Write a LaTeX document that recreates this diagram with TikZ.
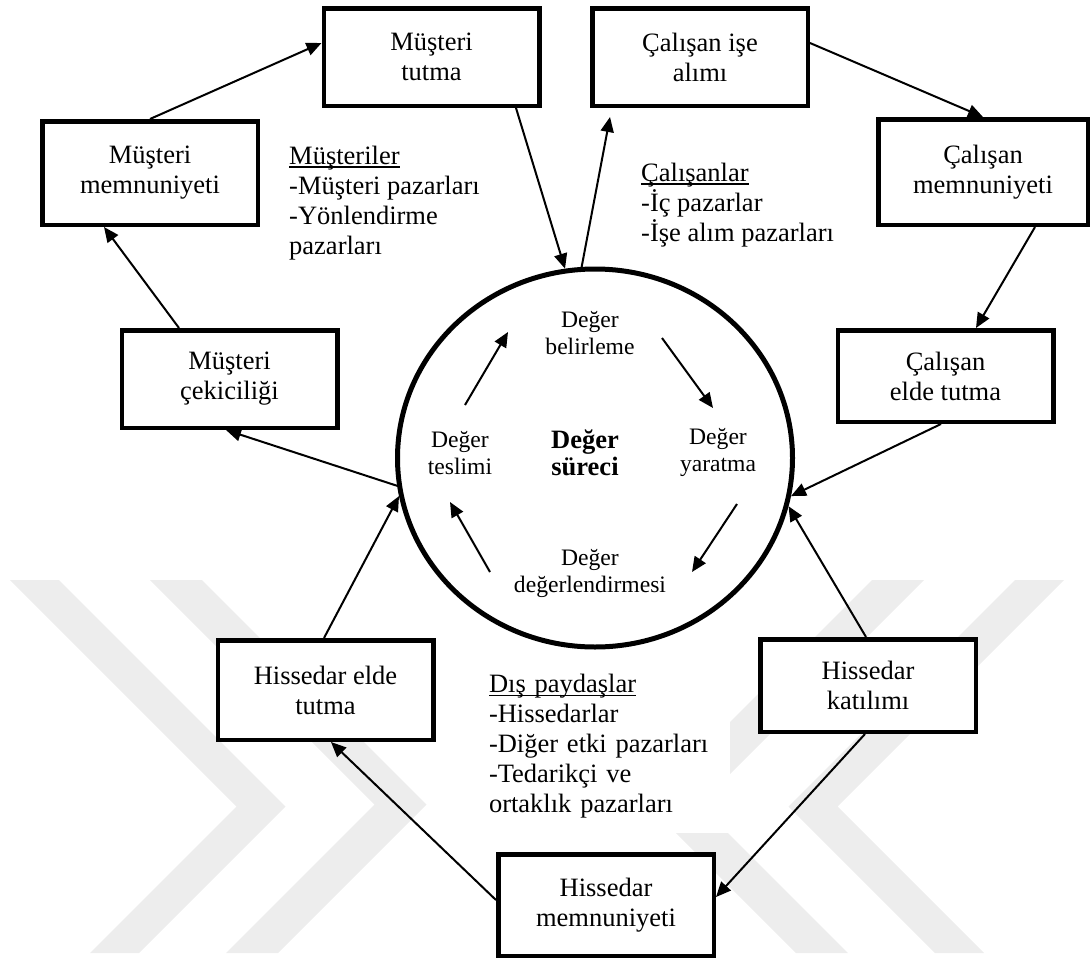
\documentclass[tikz,border=0pt]{standalone}
\usepackage{fontspec}
\setmainfont{Liberation Serif}
\usetikzlibrary{arrows.meta,shapes.geometric}
\definecolor{wm}{HTML}{EDEDED}
% heading underline of fixed offset below the baseline
\newcommand{\mkul}[1]{\setbox0\hbox{#1}\rlap{\rule[-3.5pt]{\wd0}{1.6pt}}\box0}
% one chevron band: start x, band width, depth of the bend, direction (+1 = ">", -1 = "<")
\newcommand{\chev}[4]{%
  \fill[wm] (#1,580) -- ++(#4*#2,0) -- ++(#4*#3,#3) -- ++(-#4*373+#4*#3,373-#3)
    -- ++(-#4*#2,0) -- ++(#4*373-#4*#3,#3-373) -- cycle;}
\begin{document}
\begin{tikzpicture}[x=1pt,y=-1pt,
  box/.style={draw, line width=4.5pt, fill=white, rectangle, align=center,
    minimum width=215.5pt, minimum height=97.5pt, inner sep=0pt,
    font=\fontsize{26.5}{30}\selectfont},
  inlbl/.style={align=center, inner sep=0pt, font=\fontsize{23.6}{27}\selectfont},
  blk/.style={align=left, inner sep=0pt, anchor=west, font=\fontsize{26.5}{30}\selectfont},
  link/.style={line width=2pt, -{Triangle[length=15pt,width=13pt]}}
]
\useasboundingbox (0,0) rectangle (1092,961);

% background emblem
\chev{10}{49}{226.5}{1}
\chev{150}{52}{224.5}{1}
\chev{1064}{49}{226.5}{-1}
\chev{924}{52}{224.5}{-1}

% value process
\node[draw, ellipse, line width=5pt, fill=white, minimum width=395pt,
  minimum height=378pt, inner sep=0pt] (vc) at (595,458) {};
\node[inlbl] (vb) at (590,333) {Değer\\belirleme};
\node[inlbl] (vt) at (460,453) {Değer\\teslimi};
\node[inlbl, font=\fontsize{26.5}{27}\selectfont\bfseries] (vs) at (585,453) {Değer\\süreci};
\node[inlbl] (vy) at (718,452) {Değer\\yaratma};
\node[inlbl] (vd) at (590,573) {Değer\\değerlendirmesi};

% stage boxes
\node[box] (mt) at (431.5,57) {Müşteri\\tutma};
\node[box, minimum height=103.5pt] (mm) at (150,173) {Müşteri\\memnuniyeti};
\node[box] (ci) at (700,57) {Çalışan işe\\alımı};
\node[box, minimum width=209.5pt, minimum height=105.5pt] (cm) at (983,172) {Çalışan\\memnuniyeti};
\node[box] (mc) at (229.5,379) {Müşteri\\çekiciliği};
\node[box, minimum height=91.5pt] (ce) at (945.5,376) {Çalışan\\elde tutma};
\node[box, minimum height=99.5pt] (he) at (325.5,690) {Hissedar elde\\tutma};
\node[box, minimum height=92.5pt] (hk) at (868,685.5) {Hissedar\\katılımı};
\node[box, minimum height=101.5pt] (hm) at (606,905) {Hissedar\\memnuniyeti};

% market groups
\node[blk] (km) at (289,203) {\mkul{Müşteriler}\\-Müşteri pazarları\\-Yönlendirme\\pazarları};
\node[blk] (kc) at (641,205) {\mkul{Çalışanlar}\\-İç pazarlar\\-İşe alım pazarları};
\node[blk, anchor=center, fill=white, text width=222pt, inner xsep=19pt,
  minimum height=173pt] (kd) at (600,746.5)
  {\mkul{Dış paydaşlar}\\-Hissedarlar\\-Diğer etki pazarları\\-Tedarikçi ve\\ortaklık pazarları};

% outer cycle
\draw[link] (mm.north) -- ([yshift=14pt]mt.west);
\draw[link] ([xshift=84.5pt]mt.south) -- (vc.99.6);
\draw[link] (vc.94.1) -- ([xshift=-90pt,yshift=-9pt]ci.south);
\draw[link] ([yshift=14pt]ci.east) -- (cm.north);
\draw[link] ([xshift=52pt]cm.south) -- ([xshift=30.5pt]ce.north);
\draw[link] ([xshift=-4.5pt]ce.south) -- (vc.-11.9);
\draw[link] ([xshift=-2pt]hk.north) -- (vc.-14);
\draw[link] ([xshift=-3pt]hk.south) -- ([yshift=8pt]hm.east);
\draw[link] ([yshift=5pt]hm.west) -- ([xshift=5.5pt]he.south);
\draw[link] ([xshift=-1.5pt]he.north) -- (vc.191);
\draw[link] (vc.188.5) -- ([xshift=-3.5pt]mc.south);
\draw[link] ([xshift=-50.5pt]mc.north) -- ([xshift=-46pt]mm.south);

% inner cycle
\draw[link] ([shift={(5,-48)}]vt.center) -- ([shift={(-82,-1)}]vb.center);
\draw[link] ([shift={(72,5)}]vb.center) -- ([shift={(-5,-44)}]vy.center);
\draw[link] ([shift={(19,52)}]vy.center) -- ([shift={(102,-1)}]vd.center);
\draw[link] ([shift={(-100,-1)}]vd.center) -- ([shift={(-10,49)}]vt.center);
\end{tikzpicture}
\end{document}
